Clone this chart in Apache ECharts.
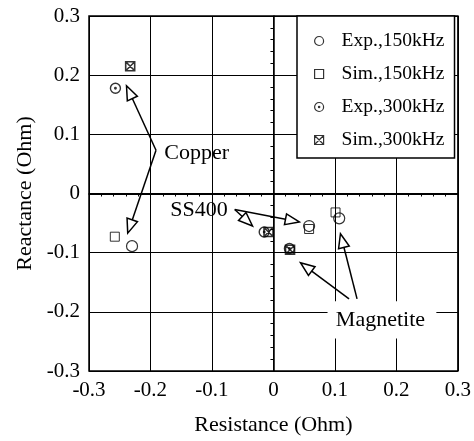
<!DOCTYPE html>
<html>
<head>
<meta charset="utf-8">
<script src="https://cdn.jsdelivr.net/npm/echarts@6/dist/echarts.min.js"></script>
<style>html,body{margin:0;padding:0;background:#fff;overflow:hidden;}#c{width:474px;height:441px;}</style>
</head>
<body>
<div id="c"></div>
<script>
// ---- data (Resistance, Reactance in Ohm) ----
const seriesNames = ['Exp.,150kHz', 'Sim.,150kHz', 'Exp.,300kHz', 'Sim.,300kHz'];
// order of points: Copper, SS400, Magnetite
const exp150 = [[-0.230, -0.089], [0.058, -0.055], [0.107, -0.042]];
const sim150 = [[-0.258, -0.073], [0.058, -0.060], [0.101, -0.032]];
const exp300 = [[-0.257, 0.178], [-0.015, -0.065], [0.026, -0.093]];
const sim300 = [[-0.233, 0.215], [-0.008, -0.065], [0.027, -0.095]];
const axisTicks = [-0.3, -0.2, -0.1, 0, 0.1, 0.2, 0.3];

// ---- annotations (data coordinates) ----
const labels = [
  {text: 'Copper', at: [-0.125, 0.068]},
  {text: 'SS400', at: [-0.121, -0.028]},
  {text: 'Magnetite', at: [0.174, -0.215], box: [[0.088, -0.182], [0.265, -0.245]]}
];
const arrows = [
  [[-0.191, 0.073], [-0.239, 0.182]],
  [[-0.191, 0.073], [-0.237, -0.067]],
  [[-0.063, -0.027], [-0.034, -0.055]],
  [[-0.063, -0.027], [0.042, -0.048]],
  [[0.123, -0.178], [0.044, -0.117]],
  [[0.136, -0.178], [0.109, -0.068]]
];

const FONT = 'Liberation Serif, Times New Roman, serif';
const circlePath = 'path://M0,-10A10,10,0,1,1,0,10A10,10,0,1,1,0,-10Z';
const circleDotPath = 'path://M0,-10A10,10,0,1,1,0,10A10,10,0,1,1,0,-10Z M0,-1.5A1.5,1.5,0,1,1,0,1.5A1.5,1.5,0,1,1,0,-1.5Z';
const squarePath = 'path://M-10,-10L10,-10L10,10L-10,10Z';
const squareXPath = 'path://M-10,-10L10,-10L10,10L-10,10Z M-10,-10L10,10 M10,-10L-10,10';

function sc(name, data, symbol, size, bw) {
  return {
    name: name, type: 'scatter', data: data, symbol: symbol, symbolSize: size,
    itemStyle: {color: 'rgba(0,0,0,0)', borderColor: '#000', borderWidth: bw},
    z: 5, silent: true
  };
}

const axisCommon = {
  min: axisTicks[0], max: axisTicks[axisTicks.length - 1], interval: 0.1,
  axisLine: {show: true, lineStyle: {color: '#000', width: 1.5}},
  axisTick: {show: true, inside: false, length: 6, lineStyle: {color: '#000', width: 1}},
  minorTick: {show: true, splitNumber: 5, length: 3, lineStyle: {color: '#000', width: 1}},
  splitLine: {show: true, lineStyle: {color: '#000', width: 1}},
  axisLabel: {color: '#000', fontFamily: FONT, fontSize: 21,
    formatter: v => { const r = Math.round(v * 10) / 10; return r === 0 ? '0' : r.toFixed(1); }},
  nameLocation: 'middle',
  nameTextStyle: {color: '#000', fontFamily: FONT, fontSize: 22}
};

const chart = echarts.init(document.getElementById('c'), null, {renderer: 'canvas', width: 474, height: 441});
const series = [
  sc(seriesNames[0], exp150, circlePath, 11, 1.2),
  sc(seriesNames[1], sim150, squarePath, 9, 1),
  sc(seriesNames[2], exp300, circleDotPath, 10, 1.4),
  sc(seriesNames[3], sim300, squareXPath, 9, 1.6)
];
series[0].markLine = {silent: true, symbol: 'none', label: {show: false},
  lineStyle: {color: '#000', width: 2, type: 'solid'}, data: [{yAxis: 0}]};

chart.setOption({
  animation: false,
  backgroundColor: '#fff',
  grid: {left: 89, width: 369.5, top: 16, height: 360, show: true, borderColor: '#000', borderWidth: 1.5, backgroundColor: 'transparent'},
  xAxis: Object.assign({}, axisCommon, {type: 'value', name: 'Resistance (Ohm)', nameGap: 43,
    axisLabel: Object.assign({}, axisCommon.axisLabel, {margin: 9})}),
  yAxis: Object.assign({}, axisCommon, {type: 'value', name: 'Reactance (Ohm)', nameGap: 44, nameRotate: 90,
    axisLabel: Object.assign({}, axisCommon.axisLabel, {margin: 9})}),
  legend: {
    orient: 'vertical', left: 297, top: 16,
    data: seriesNames,
    itemWidth: 9, itemHeight: 9, itemGap: 13,
    padding: [15, 10, 8, 17],
    backgroundColor: '#fff', borderColor: '#000', borderWidth: 1.5,
    textStyle: {color: '#000', fontFamily: FONT, fontSize: 19.5, padding: [0, 0, 0, 13]},
    itemStyle: {color: 'rgba(0,0,0,0)', borderColor: '#000', borderWidth: 1.2},
    selectedMode: false, z: 10
  },
  series: series
});

// ---- annotations drawn after layout, positioned from data coordinates ----
function px(p) { return chart.convertToPixel({gridIndex: 0}, p); }
const g = [];
labels.forEach(l => {
  if (l.box) {
    const a = px(l.box[0]), b = px(l.box[1]);
    g.push({type: 'rect', z: 3, shape: {x: Math.min(a[0], b[0]), y: Math.min(a[1], b[1]), width: Math.abs(b[0] - a[0]), height: Math.abs(b[1] - a[1])},
      style: {fill: '#fff', stroke: null}});
  }
  const p = px(l.at);
  g.push({type: 'text', z: 6, x: p[0], y: p[1],
    style: {text: l.text, fill: '#000', font: '22px ' + FONT, align: 'center', verticalAlign: 'middle'}});
});
arrows.forEach(ar => {
  const s = px(ar[0]), t = px(ar[1]);
  const dx = t[0] - s[0], dy = t[1] - s[1], len = Math.hypot(dx, dy);
  const ux = dx / len, uy = dy / len, nx = -uy, ny = ux;
  const hl = 14, hw = 5.5;
  const bx = t[0] - ux * hl, by = t[1] - uy * hl;
  g.push({type: 'line', z: 6, shape: {x1: s[0], y1: s[1], x2: bx, y2: by}, style: {stroke: '#000', lineWidth: 1.5}});
  g.push({type: 'polygon', z: 6, shape: {points: [[t[0], t[1]], [bx + nx * hw, by + ny * hw], [bx - nx * hw, by - ny * hw]]},
    style: {fill: '#fff', stroke: '#000', lineWidth: 1.5}});
});
chart.setOption({graphic: g});
</script>
</body>
</html>
